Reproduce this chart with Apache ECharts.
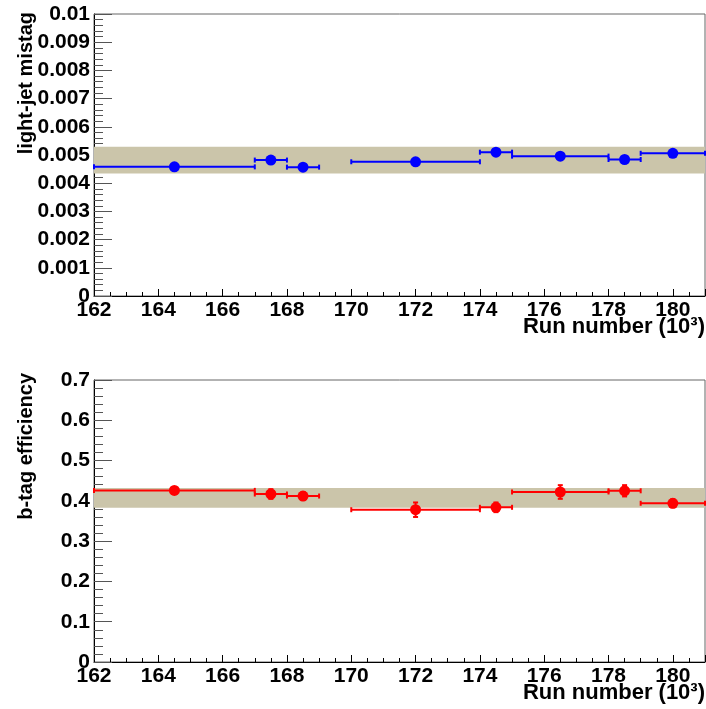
<!DOCTYPE html>
<html>
<head>
<meta charset="utf-8">
<script src="https://cdn.jsdelivr.net/npm/echarts@6/dist/echarts.min.js"></script>
<style>html,body{margin:0;padding:0;background:#fff}#c{width:706px;height:709px}</style>
</head>
<body>
<div id="c"></div>
<script>
// ---- data ----
const xCenters = [164.5, 167.5, 168.5, 172, 174.5, 176.5, 178.5, 180];
const xLow     = [162, 167, 168, 170, 174, 175, 178, 179];
const xHigh    = [167, 168, 169, 174, 175, 178, 179, 181];
const mistag    = [0.00458, 0.00482, 0.00457, 0.00476, 0.00510, 0.00496, 0.00484, 0.00506];
const mistagErr = [0.00006, 0.00006, 0.00006, 0.00006, 0.00006, 0.00006, 0.00006, 0.00006];
const btagEff   = [0.426, 0.417, 0.412, 0.378, 0.384, 0.422, 0.425, 0.394];
const btagErr   = [0.008, 0.012, 0.010, 0.018, 0.012, 0.017, 0.014, 0.010];
const mistagBand = [0.00434, 0.00529];
const btagBand   = [0.383, 0.432];
const xTitle = 'Run number (10\u00B3)';
const yTitleTop = 'light-jet mistag';
const yTitleBottom = 'b-tag efficiency';

const FONT = '"Liberation Sans", Arial, sans-serif';
const chart = echarts.init(document.getElementById('c'), null, {renderer: 'canvas'});

function build(vals, errs) {
  return xCenters.map((x, i) => [x, vals[i], xLow[i], xHigh[i], errs[i]]);
}

function renderItem(params, api) {
  const xc = api.value(0), y = api.value(1), xl = api.value(2), xh = api.value(3), e = api.value(4);
  const c = api.visual('color');
  const pc = api.coord([xc, y]);
  const pl = api.coord([xl, y]);
  const ph = api.coord([xh, y]);
  const pt = api.coord([xc, y + e]);
  const pb = api.coord([xc, y - e]);
  const st = {stroke: c, lineWidth: 2};
  return {
    type: 'group',
    children: [
      {type: 'line', shape: {x1: pl[0], y1: pl[1], x2: ph[0], y2: ph[1]}, style: st},
      {type: 'line', shape: {x1: pl[0], y1: pl[1] - 2.5, x2: pl[0], y2: pl[1] + 2.5}, style: st},
      {type: 'line', shape: {x1: ph[0], y1: ph[1] - 2.5, x2: ph[0], y2: ph[1] + 2.5}, style: st},
      {type: 'line', shape: {x1: pt[0], y1: pt[1], x2: pb[0], y2: pb[1]}, style: st},
      {type: 'line', shape: {x1: pt[0] - 2.5, y1: pt[1], x2: pt[0] + 2.5, y2: pt[1]}, style: st},
      {type: 'line', shape: {x1: pb[0] - 2.5, y1: pb[1], x2: pb[0] + 2.5, y2: pb[1]}, style: st},
      {type: 'circle', shape: {cx: pc[0], cy: pc[1], r: 5.5}, style: {fill: c}}
    ]
  };
}

const labelStyle = {color: '#000', fontFamily: FONT, fontWeight: 'bold', fontSize: 21};

function xAxis(gi) {
  return {
    type: 'value', gridIndex: gi, min: 162, max: 181, interval: 2,
    axisLine: {show: true, onZero: false, lineStyle: {color: '#000', width: 1}},
    axisTick: {show: true, inside: true, length: 7, lineStyle: {color: '#000'}},
    minorTick: {show: true, splitNumber: 4, length: 4, lineStyle: {color: '#000'}},
    splitLine: {show: false},
    axisLabel: Object.assign({margin: 4, showMaxLabel: false, verticalAlign: 'top'}, labelStyle)
  };
}
function yAxis(gi, max, interval, dec) {
  return {
    type: 'value', gridIndex: gi, min: 0, max: max, interval: interval,
    axisLine: {show: true, onZero: false, lineStyle: {color: '#000', width: 1}},
    axisTick: {show: true, inside: true, length: 18, lineStyle: {color: '#555'}},
    minorTick: {show: true, splitNumber: 5, length: 9, lineStyle: {color: '#555'}},
    splitLine: {show: false},
    axisLabel: Object.assign({margin: 4, formatter: v => String(+v.toFixed(dec))}, labelStyle)
  };
}

chart.setOption({
  animation: false,
  backgroundColor: '#fff',
  grid: [
    {left: 94, top: 14, width: 611, height: 282, show: true, borderColor: '#666', borderWidth: 1, backgroundColor: 'transparent'},
    {left: 94, top: 380, width: 611, height: 282, show: true, borderColor: '#666', borderWidth: 1, backgroundColor: 'transparent'}
  ],
  xAxis: [xAxis(0), xAxis(1)],
  yAxis: [yAxis(0, 0.01, 0.001, 3), yAxis(1, 0.7, 0.1, 1)],
  graphic: [
    {type: 'text', right: 1, top: 316, style: {text: xTitle, font: 'bold 22px ' + FONT, fill: '#000'}},
    {type: 'text', right: 1, top: 682, style: {text: xTitle, font: 'bold 22px ' + FONT, fill: '#000'}},
    {type: 'text', x: 26, y: 12, rotation: Math.PI / 2, style: {text: yTitleTop, font: 'bold 20px ' + FONT, fill: '#000', align: 'right', verticalAlign: 'middle'}},
    {type: 'text', x: 26, y: 373, rotation: Math.PI / 2, style: {text: yTitleBottom, font: 'bold 20px ' + FONT, fill: '#000', align: 'right', verticalAlign: 'middle'}}
  ],
  series: [
    {type: 'line', xAxisIndex: 0, yAxisIndex: 0, data: [], z: 1, silent: true,
     markArea: {silent: true, itemStyle: {color: '#cbc5aa'}, data: [[{yAxis: mistagBand[0]}, {yAxis: mistagBand[1]}]]}},
    {type: 'line', xAxisIndex: 1, yAxisIndex: 1, data: [], z: 1, silent: true,
     markArea: {silent: true, itemStyle: {color: '#cbc5aa'}, data: [[{yAxis: btagBand[0]}, {yAxis: btagBand[1]}]]}},
    {type: 'custom', xAxisIndex: 0, yAxisIndex: 0, z: 5, itemStyle: {color: '#0000ff'},
     renderItem: renderItem, data: build(mistag, mistagErr), encode: {x: 0, y: 1}},
    {type: 'custom', xAxisIndex: 1, yAxisIndex: 1, z: 5, itemStyle: {color: '#ff0000'},
     renderItem: renderItem, data: build(btagEff, btagErr), encode: {x: 0, y: 1}}
  ]
});
</script>
</body>
</html>
